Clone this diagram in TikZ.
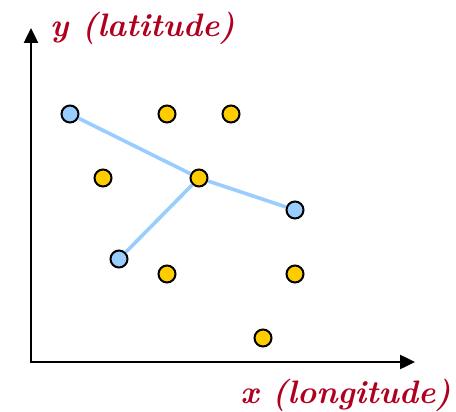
\documentclass[tikz,border=0pt]{standalone}
\usepackage{fontspec}
\usetikzlibrary{arrows.meta}
\definecolor{axislabel}{RGB}{176,0,32}
\definecolor{sitegold}{RGB}{255,204,0}
\definecolor{siteblue}{RGB}{153,204,255}
\tikzset{
  site/.style={circle,draw,line width=2pt,minimum size=17pt,inner sep=0pt},
  gold/.style={site,fill=sitegold},
  blue/.style={site,fill=siteblue},
  axislab/.style={text=axislabel,font=\fontsize{32.5}{38}\selectfont\bfseries\itshape,inner sep=0pt},
}
\begin{document}
\begin{tikzpicture}[x=1pt,y=-1pt,>={Triangle[length=15pt,width=14pt]}]
\useasboundingbox (0,0) rectangle (456,412);
% axes
\coordinate (o) at (31,362);
\coordinate (ytip) at (31,28);
\coordinate (xtip) at (415,362);
\draw[line width=2.5pt,<->] (ytip) -- (o) -- (xtip);
\node[axislab,anchor=base west] (ylab) at (50,37) {y (latitude)};
\node[axislab,anchor=base east] (xlab) at (451,403) {x (longitude)};
% sites
\node[gold] (g1) at (167,114) {};
\node[gold] (g2) at (231,114) {};
\node[gold] (g3) at (103,178) {};
\node[gold] (c) at (199,178) {};
\node[gold] (g4) at (167,274) {};
\node[gold] (g5) at (295,274) {};
\node[gold] (g6) at (263,338) {};
\node[blue] (b1) at (70,114) {};
\node[blue] (b2) at (119,259) {};
\node[blue] (b3) at (295,210) {};
% links
\draw[siteblue,line width=3.6pt] (b1) -- (c) -- (b3);
\draw[siteblue,line width=3.6pt] (c) -- (b2);
\end{tikzpicture}
\end{document}
